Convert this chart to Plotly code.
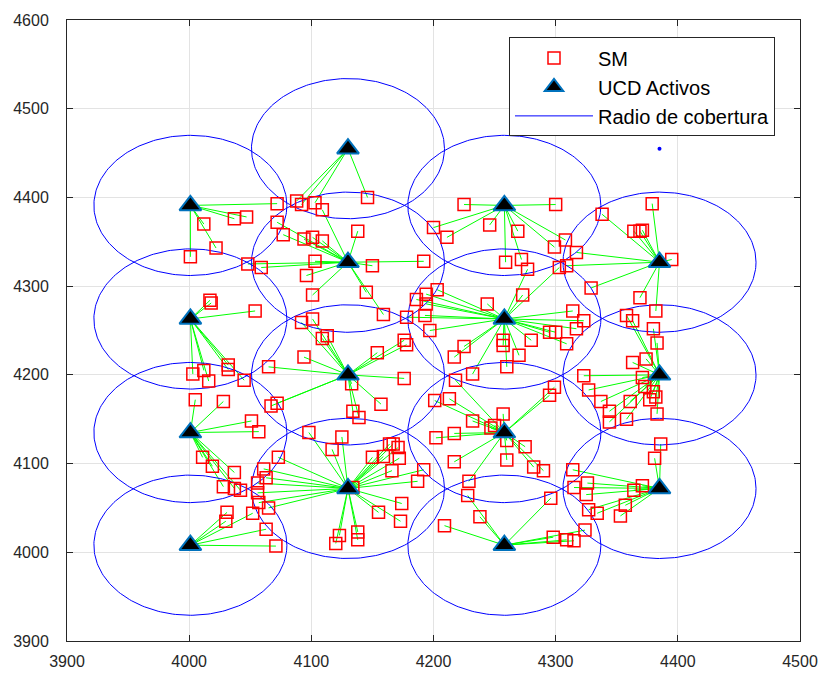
import numpy as np
import plotly.graph_objects as go

# Active UCD (base station) positions
ucd_x = [4001, 4001, 4001, 4001, 4130, 4130, 4130, 4130,
         4258, 4258, 4258, 4258, 4385, 4385, 4385]
ucd_y = [4391, 4263, 4135, 4008, 4455, 4327, 4200, 4072,
         4391, 4263, 4135, 4008, 4327, 4200, 4072]
# Inactive UCD (zero coverage radius -> dot)
idle_x = [4385]
idle_y = [4455]
radius = 79

# SM positions and the UCD each one is linked to
sm_x = [
    4072, 4037, 4047, 4012, 4022, 4001,
    4054, 4017, 4018, 4003, 4012, 4016, 4032, 4032, 4045,
    4011, 4019, 4037, 4028, 4037, 4042, 4005, 4028, 4051, 4057,
    4031, 4030, 4052, 4063, 4071,
    4088, 4092, 4103, 4146,
    4072, 4077, 4048, 4059, 4109, 4138, 4094, 4101, 4109, 4103, 4096, 4150, 4192, 4101, 4145, 4159,
    4092, 4101, 4109, 4113, 4094, 4176, 4178, 4154, 4176, 4133, 4157, 4134, 4139, 4065, 4067, 4072,
    4098, 4125, 4117, 4164, 4167, 4171, 4150, 4159, 4172, 4166, 4192, 4187, 4134, 4174, 4155, 4173,
    4123, 4120, 4138, 4138, 4073, 4061, 4063, 4056, 4056, 4057, 4065,
    4225, 4246, 4200, 4211, 4300, 4269, 4259, 4272, 4299, 4308,
    4303, 4186, 4194, 4203, 4194, 4244, 4277, 4273, 4178, 4193, 4197, 4225, 4217, 4232, 4314, 4323,
    4317, 4295, 4300, 4309, 4280, 4257, 4257, 4270, 4260,
    4218, 4201, 4213, 4232, 4247, 4250, 4217, 4202, 4295, 4299, 4257, 4217, 4229, 4260, 4275, 4260,
    4282, 4290,
    4296, 4228, 4238, 4209, 4324, 4298, 4309, 4315,
    4338, 4379, 4364, 4369, 4371, 4395, 4329, 4369, 4317, 4309, 4382,
    4358, 4363, 4380, 4383, 4363, 4374, 4323, 4327, 4371, 4373, 4380, 4377, 4382, 4337, 4361, 4344,
    4344, 4358, 4383,
    4386, 4381, 4314, 4326, 4315, 4325, 4364, 4371, 4357, 4353, 4327, 4334,
]
sm_y = [
    4393, 4376, 4378, 4370, 4343, 4333,
    4272, 4284, 4281, 4201, 4205, 4193, 4211, 4206, 4194,
    4107, 4097, 4090, 4074, 4072, 4070, 4172, 4170, 4148, 4136,
    4045, 4035, 4044, 4026, 4007,
    4396, 4392, 4394, 4400,
    4372, 4358, 4325, 4321, 4386, 4362, 4353, 4355, 4351, 4328, 4312, 4323, 4328, 4290, 4293, 4268,
    4259, 4263, 4241, 4244, 4220, 4239, 4234, 4225, 4196, 4190, 4167, 4159, 4152, 4209, 4165, 4168,
    4135, 4130, 4116, 4122, 4122, 4118, 4107, 4108, 4106, 4092, 4093, 4080, 4073, 4055, 4045, 4035,
    4019, 4010, 4023, 4014, 4107, 4094, 4084, 4078, 4067, 4056, 4050,
    4392, 4369, 4366, 4355, 4392, 4362, 4327, 4330, 4344, 4352,
    4321, 4285, 4291, 4296, 4280, 4280, 4319, 4290, 4265, 4267, 4250, 4232, 4220, 4201, 4272, 4261,
    4252, 4248, 4248, 4235, 4239, 4239, 4233, 4222, 4209,
    4194, 4171, 4173, 4148, 4140, 4143, 4134, 4129, 4177, 4186, 4156, 4102, 4080, 4126, 4119, 4104,
    4096, 4092,
    4061, 4064, 4040, 4030, 4025, 4017, 4014, 4013,
    4381, 4393, 4362, 4362, 4363, 4330, 4298, 4287, 4338, 4323, 4272,
    4267, 4261, 4252, 4236, 4214, 4218, 4199, 4183, 4197, 4187, 4181, 4172, 4175, 4170, 4170, 4159,
    4147, 4150, 4156,
    4122, 4106, 4093, 4078, 4073, 4065, 4070, 4075, 4053, 4041, 4048, 4044,
]
sm_ucd = [
    0, 0, 0, 0, 0, 0,
    1, 1, 1, 1, 1, 1, 1, 1, 1,
    2, 2, 2, 2, 2, 2, 2, 2, 2, 2,
    3, 3, 3, 3, 3,
    4, 4, 4, 4,
    5, 5, 5, 5, 5, 5, 5, 5, 5, 5, 5, 5, 5, 5, 5, 5,
    6, 6, 6, 6, 6, 6, 6, 6, 6, 6, 6, 6, 6, 6, 6, 6,
    7, 7, 7, 7, 7, 7, 7, 7, 7, 7, 7, 7, 7, 7, 7, 7,
    7, 7, 7, 7, 7, 7, 7, 7, 7, 7, 7,
    8, 8, 8, 8, 8, 8, 8, 8, 8, 8,
    9, 9, 9, 9, 9, 9, 9, 9, 9, 9, 9, 9, 9, 9, 9, 9,
    9, 9, 9, 9, 9, 9, 9, 9, 9,
    10, 10, 10, 10, 10, 10, 10, 10, 10, 10, 10, 10, 10, 10, 10, 10,
    10, 10,
    11, 11, 11, 11, 11, 11, 11, 11,
    12, 12, 12, 12, 12, 12, 12, 12, 12, 12, 12,
    13, 13, 13, 13, 13, 13, 13, 13, 13, 13, 13, 13, 13, 13, 13, 13,
    13, 13, 13,
    14, 14, 14, 14, 14, 14, 14, 14, 14, 14, 14, 14,
]

x_ticks = [3900, 4000, 4100, 4200, 4300, 4400, 4500]
y_ticks = [3900, 4000, 4100, 4200, 4300, 4400, 4500, 4600]

FONT = "Liberation Sans, Arial, Helvetica, sans-serif"
AX = "#262626"

n = min(len(sm_x), len(sm_y), len(sm_ucd))

# Links SM -> UCD
lx, ly = [], []
for i in range(n):
    u = sm_ucd[i]
    lx += [ucd_x[u], sm_x[i], None]
    ly += [ucd_y[u], sm_y[i], None]

# Coverage circles
t = np.linspace(0, 2 * np.pi, 241)
cx, cy = [], []
for x0, y0 in zip(ucd_x, ucd_y):
    cx += list(x0 + radius * np.cos(t)) + [None]
    cy += list(y0 + radius * np.sin(t)) + [None]

fig = go.Figure()
fig.add_trace(go.Scatter(x=lx, y=ly, mode="lines", line=dict(color="#00ff00", width=1),
                         showlegend=False, hoverinfo="skip"))
fig.add_trace(go.Scatter(x=cx, y=cy, mode="lines", line=dict(color="#0000ff", width=1),
                         name="Radio de cobertura", legendrank=3))
fig.add_trace(go.Scatter(x=idle_x, y=idle_y, mode="markers",
                         marker=dict(color="#0000ff", size=4), showlegend=False))
fig.add_trace(go.Scatter(x=sm_x[:n], y=sm_y[:n], mode="markers", name="SM", legendrank=1,
                         marker=dict(symbol="square-open", size=12, color="#ff0000",
                                     line=dict(width=1.5, color="#ff0000"))))
fig.add_trace(go.Scatter(x=ucd_x, y=ucd_y, mode="markers", name="UCD Activos", legendrank=2,
                         marker=dict(symbol="triangle-up", size=19, color="#000000",
                                     line=dict(width=2, color="#0072BD"))))

axis_common = dict(
    showgrid=True, gridcolor="#e3e3e3", gridwidth=1, zeroline=False,
    showline=True, linecolor=AX, linewidth=1, mirror="ticks",
    ticks="inside", ticklen=6, tickcolor=AX, tickwidth=1,
    tickfont=dict(family=FONT, size=16, color=AX),
)
fig.update_xaxes(range=[3900, 4500], tickvals=x_ticks, ticklabelstandoff=6, **axis_common)
fig.update_yaxes(range=[3900, 4600], tickvals=y_ticks, ticklabelstandoff=14, **axis_common)

fig.update_layout(
    width=830, height=682,
    margin=dict(l=67, r=25, t=16, b=39),
    paper_bgcolor="white", plot_bgcolor="white",
    font=dict(family=FONT, color="#000000"),
    legend=dict(x=0.603, y=0.972, xanchor="left", yanchor="top",
                bgcolor="white", bordercolor=AX, borderwidth=1,
                font=dict(family=FONT, size=20, color="#000000"),
                itemwidth=78, tracegroupgap=0),
    showlegend=True,
)

fig.write_html("out.html")
